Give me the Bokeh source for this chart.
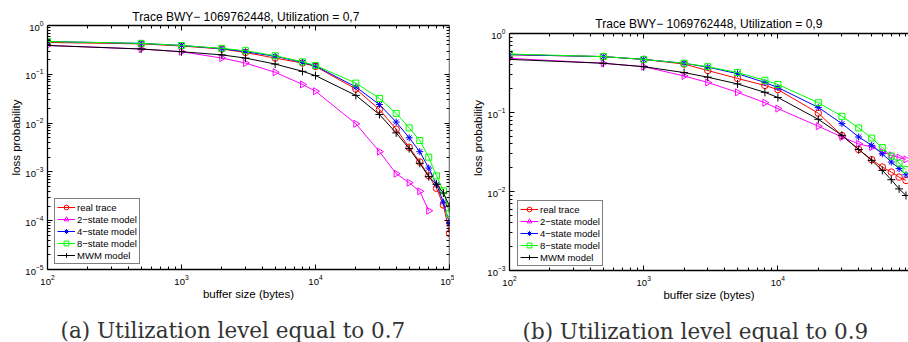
import numpy as np
from bokeh.plotting import figure
from bokeh.layouts import row
from bokeh.models import (LogAxis, FixedTicker, Legend, LegendItem, Title, Label,
                          Range1d, CustomJSTickFormatter)
from bokeh.embed import file_html
from bokeh.resources import INLINE

# ---------------- data ----------------
buffer_sizes = [100, 500, 1000, 2000, 3000, 5000, 8000, 10000, 20000, 30000,
                40000, 50000, 60000, 70000, 80000, 90000, 100000]

series_names = ["real trace", "2\u2212state model", "4\u2212state model",
                "8\u2212state model", "MWM model"]

# (a) utilization 0.7
real_a = [0.45, 0.42, 0.38, 0.33, 0.28, 0.215, 0.17, 0.145, 0.05, 0.019,
          0.0075, 0.0032, 0.0016, 0.00083, 0.00046, 0.00021, 0.000055]
two_a = [0.39, 0.33, 0.29, 0.215, 0.17, 0.11, 0.062, 0.045, 0.0097, 0.0026,
         0.00092, 0.0006, 0.0004, 0.00016]
four_a = [0.47, 0.43, 0.39, 0.335, 0.29, 0.235, 0.175, 0.148, 0.055, 0.024,
          0.0105, 0.005, 0.0026, 0.0012, 0.00056, 0.00024, 0.000087]
eight_a = [0.47, 0.43, 0.39, 0.34, 0.305, 0.24, 0.18, 0.152, 0.066, 0.032,
           0.0158, 0.008, 0.0044, 0.002, 0.00083, 0.00041, 0.00014]
mwm_a = [0.39, 0.33, 0.29, 0.25, 0.215, 0.162, 0.115, 0.094, 0.037, 0.015,
         0.0063, 0.003, 0.0015, 0.0008, 0.00056, 0.00037, 0.0002]

# (b) utilization 0.9
real_b = [0.54, 0.51, 0.47, 0.41, 0.34, 0.27, 0.22, 0.195, 0.098, 0.051,
          0.034, 0.0253, 0.0204, 0.0176, 0.0152, 0.0138]
two_b = [0.485, 0.42, 0.38, 0.29, 0.24, 0.18, 0.133, 0.112, 0.067, 0.049,
         0.040, 0.0366, 0.0316, 0.0288, 0.0269, 0.0255]
four_b = [0.54, 0.51, 0.47, 0.42, 0.375, 0.31, 0.24, 0.207, 0.116, 0.0723,
          0.049, 0.0384, 0.030, 0.0236, 0.0195, 0.0163]
eight_b = [0.55, 0.51, 0.47, 0.42, 0.38, 0.32, 0.256, 0.226, 0.133, 0.0895,
           0.0637, 0.0475, 0.0359, 0.0281, 0.0229, 0.0189]
mwm_b = [0.47, 0.42, 0.38, 0.32, 0.28, 0.23, 0.18, 0.155, 0.082, 0.0514,
         0.034, 0.0248, 0.0185, 0.0141, 0.0108, 0.0089]

title_a = "Trace BWY\u2212 1069762448,  Utilization = 0,7"
title_b = "Trace BWY\u2212 1069762448,  Utilization = 0,9"
caption_a = "(a) Utilization level equal to 0.7"
caption_b = "(b) Utilization level equal to 0.9"
x_label = "buffer size (bytes)"
y_label = "loss probability"

# ---------------- styles ----------------
colors = ["#ff0000", "#ff00ff", "#0000ff", "#00ff00", "#000000"]
markers = ["circle", "triangle", "asterisk", "square", "cross"]
msizes = [6.5, 7, 7, 6, 8]
SANS = "Liberation Sans"


def decade_ticks(lo, hi):
    major = [10.0 ** e for e in range(lo, hi + 1)]
    minor = [k * 10.0 ** e for e in range(lo, hi) for k in range(2, 10)]
    return FixedTicker(ticks=major, minor_ticks=minor)


def style_axis(ax, lo, hi, labels=True):
    ax.ticker = decade_ticks(lo, hi)
    ax.axis_line_color = "black"
    ax.axis_line_width = 1.3
    ax.major_tick_in = 5
    ax.major_tick_out = 0
    ax.minor_tick_in = 3
    ax.minor_tick_out = 0
    ax.major_tick_line_color = "black"
    ax.minor_tick_line_color = "black"
    ax.major_label_text_font = SANS
    ax.major_label_text_font_size = "9.5px"
    ax.major_label_text_color = "black"
    ax.axis_label_text_font = SANS
    ax.axis_label_text_font_size = "11.5px"
    ax.axis_label_text_font_style = "normal"
    ax.axis_label_text_color = "black"
    if not labels:
        ax.formatter = CustomJSTickFormatter(code="return ''")
        ax.major_label_text_font_size = "1px"
        ax.major_label_standoff = 0
        ax.axis_label = None
        ax.axis_label_standoff = 0


def panel(ys, title, caption, x_end, y_lo, px_per_decade, gap_above, frame_w,
          frame_h, borders, legend_loc, title_pos, cap_standoff, right_axis):
    left, right, top, bottom = borders
    # the frame reaches above the top axis (y = 1) by gap_above pixels so the
    # plot title can sit in that strip
    y_end = 10.0 ** (gap_above / px_per_decade)
    p = figure(x_axis_type="log", y_axis_type="log",
               x_range=Range1d(100, x_end), y_range=Range1d(10.0 ** y_lo, y_end),
               frame_width=frame_w, frame_height=frame_h,
               min_border_left=left, min_border_right=right,
               min_border_top=top, min_border_bottom=bottom,
               output_backend="svg", toolbar_location=None, title=None)
    p.outline_line_color = None
    p.grid.visible = False
    p.background_fill_color = "white"
    p.border_fill_color = "white"

    style_axis(p.xaxis[0], 2, 5)
    style_axis(p.yaxis[0], y_lo, 0)
    p.yaxis[0].bounds = (10.0 ** y_lo, 1.0)
    p.xaxis[0].axis_label = x_label
    p.yaxis[0].axis_label = y_label
    p.xaxis[0].major_label_standoff = 5
    p.yaxis[0].major_label_standoff = 4
    p.xaxis[0].axis_label_standoff = 0
    p.yaxis[0].axis_label_standoff = 0

    # mirrored tick axes on top/right, pinned to the box edge
    top_ax = LogAxis(fixed_location=1.0)
    style_axis(top_ax, 2, 5, labels=False)
    p.add_layout(top_ax, "above")
    if right_axis:
        r_ax = LogAxis(fixed_location=x_end, bounds=(10.0 ** y_lo, 1.0))
        style_axis(r_ax, y_lo, 0, labels=False)
        p.add_layout(r_ax, "right")

    items = []
    for name, vals, c, m, s in zip(series_names, ys, colors, markers, msizes):
        xs = buffer_sizes[:len(vals)]
        lr = p.line(xs, vals, line_color=c, line_width=1)
        if m == "triangle":
            sr = p.scatter(xs, vals, marker=m, size=s, angle=-np.pi / 2,
                           line_color=c, fill_color=None, line_width=1)
        else:
            sr = p.scatter(xs, vals, marker=m, size=s, line_color=c,
                           fill_color=None, line_width=1)
        items.append(LegendItem(label=name, renderers=[lr, sr]))

    leg = Legend(items=items, location=legend_loc,
                 label_text_font=SANS, label_text_font_size="9.5px",
                 label_text_color="black",
                 glyph_width=18, glyph_height=12, label_height=12,
                 label_standoff=2, spacing=0, padding=2, margin=0,
                 border_line_color="black", border_line_width=1.2,
                 background_fill_color="white", background_fill_alpha=1)
    p.add_layout(leg)

    # plot title (screen units measured from the frame's bottom-left corner)
    p.add_layout(Label(x=title_pos[0], y=title_pos[1], x_units="screen",
                       y_units="screen", text=title, text_font=SANS,
                       text_font_size="12px", text_color="black",
                       text_align="center", text_baseline="middle"))

    cap = Title(text=caption, align="left", text_font="DejaVu Serif",
                text_font_size="21.5px", text_font_style="normal",
                text_color="#333333", offset=13, standoff=cap_standoff)
    p.add_layout(cap, "below")
    return p


# left: box top at 25 px, bottom at 269 px; right: box top 33 px, bottom 270 px
p1 = panel([real_a, two_a, four_a, eight_a, mwm_a], title_a, caption_a,
           100000, -5, 48.8, 20, 402, 264, (47, 5, 5, 73), (7, 5),
           (200, 264 - 11), 27, True)
p2 = panel([real_b, two_b, four_b, eight_b, mwm_b], title_b, caption_b,
           10 ** (2 + 399 / 134.2), -3, 79.0, 28, 399, 265, (55, 0, 5, 72), (8, 4),
           (201, 265 - 18), 26, False)

layout = row(p1, p2)
open("out.html", "w").write(file_html(layout, INLINE))
